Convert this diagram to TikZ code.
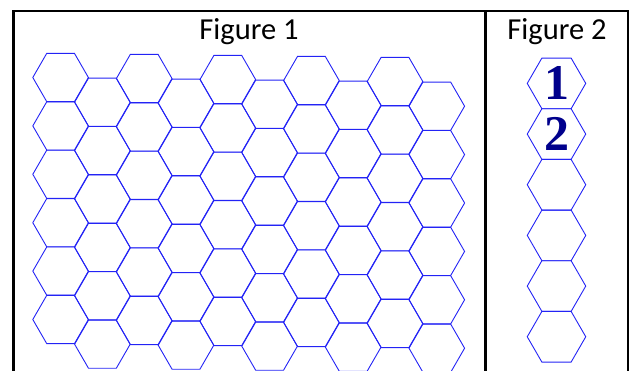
\documentclass[tikz,border=0pt]{standalone}
\usepackage{fontspec}
\setmainfont{Carlito}
\newfontfamily\numfont{Liberation Serif}
\usepackage{tikz}
\usetikzlibrary{shapes.geometric, positioning}
\definecolor{HexBlue}{RGB}{35,35,245}
\definecolor{NumNavy}{RGB}{0,0,140}

\begin{document}
\begin{tikzpicture}[
    x=1pt, y=-1pt,
    hexcell/.style={regular polygon, regular polygon sides=6, draw=HexBlue, 
                    line width=0.9pt, minimum size=55.6pt, inner sep=0pt, outer sep=0pt},
    bighex/.style={hexcell, minimum size=58.5pt, text=NumNavy,
                   font=\numfont\bfseries\fontsize{50}{50}\selectfont},
    title/.style={anchor=base, font=\fontsize{30.5}{36}\selectfont},
    frame/.style={line width=2.2pt}
]
\useasboundingbox (0,0) rectangle (635,371);

% Table frame
\draw[frame] (13.5,371) -- (13.5,11) -- (628,11) -- (628,371);
\draw[frame] (485.5,11) -- (485.5,371);

% Titles
\node[title] (fig1title) at (249,39.3) {Figure 1};
\node[title] (fig2title) at (557,39.3) {Figure 2};

% Figure 1: honeycomb
\foreach \c in {0,...,9} {
  \foreach \r in {0,...,5} {
    \pgfmathsetmacro{\hx}{60.6+41.8*\c}
    \pgfmathsetmacro{\hy}{77.5+0.5*\c+24.2*mod(\c,2)+48.4*\r}
    \node[hexcell] (hex-\c-\r) at (\hx,\hy) {};
  }
}

% Figure 2: single column
\node[bighex] (cell1) at (556.5,83.4) {1};
\node[bighex, below=0pt of cell1] (cell2) {2};
\node[bighex, below=0pt of cell2] (cell3) {};
\node[bighex, below=0pt of cell3] (cell4) {};
\node[bighex, below=0pt of cell4] (cell5) {};
\node[bighex, below=0pt of cell5] (cell6) {};

\end{tikzpicture}
\end{document}
